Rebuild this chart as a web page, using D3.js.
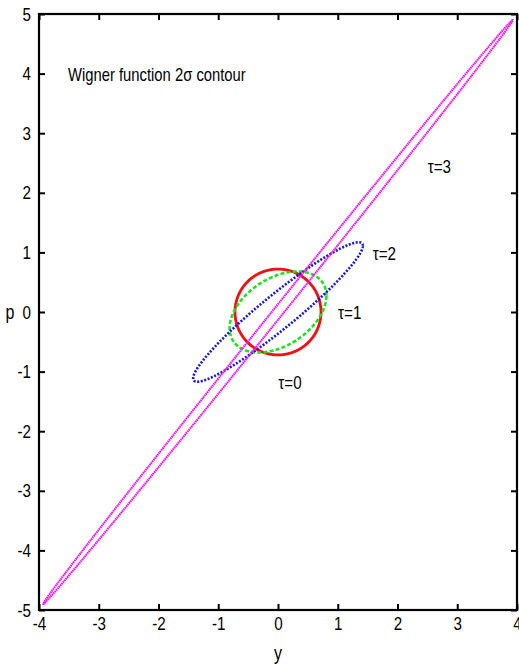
<!DOCTYPE html>
<html lang="en">
<head>
    <meta charset="UTF-8">
    <title>Wigner function 2 sigma contour</title>
    <script src="https://d3js.org/d3.v7.min.js"></script>
    <style>
        body { margin: 0; background: #fff; }
        text {
            font-family: "Liberation Sans", Arial, sans-serif;
            fill: #000;
        }
        .tick text { font-size: 19px; }
        .tick line { stroke: #000; stroke-width: 2px; }
        .frame { fill: none; stroke: #000; stroke-width: 2.2px; }
        .contour { fill: none; }
    </style>
</head>
<body>

<svg id="chart" width="519" height="671"></svg>

<script>
    // contour parameters (half width in y, half height in p, y-p correlation)
    const taus  = [0, 1, 2, 3];
    const halfY = [0.72, 0.81, 1.42, 3.93];
    const halfP = [0.72, 0.68, 1.17, 4.90];
    const corr  = [0, 0.40, 0.95, 0.99964];

    // where the tau labels sit, in data units
    const labelY = [0.2, 1.2, 1.78, 2.7];
    const labelP = [-1.18, 0.0, 0.98, 2.45];

    const xTicks = [-4, -3, -2, -1, 0, 1, 2, 3, 4];
    const yTicks = [-5, -4, -3, -2, -1, 0, 1, 2, 3, 4, 5];

    const styles = [
        { color: "#f01010", width: 2.8, dash: null },
        { color: "#22e022", width: 2.6, dash: "4,2.2" },
        { color: "#1414e6", width: 2.6, dash: "2,1.6" },
        { color: "#ee18ee", width: 2.1, dash: "1.6,0.5" }
    ];

    const squeeze = 0.8; // the original uses a condensed face

    // move x/y into a transform so the glyphs can be narrowed in place
    function narrow(sel) {
        sel.each(function () {
            const t = d3.select(this);
            const tx = +t.attr("x") || 0, ty = +t.attr("y") || 0;
            t.attr("x", null).attr("y", null)
             .attr("transform", `translate(${tx},${ty}) scale(${squeeze},1)`);
        });
    }

    const svg = d3.select("#chart");
    const x = d3.scaleLinear().domain([-4, 4]).range([39, 517]);
    const y = d3.scaleLinear().domain([-5, 5]).range([610, 14]);
    const fmt = d => String(d);

    // axes with inward ticks on all four sides
    svg.append("g")
        .attr("transform", `translate(0,${y(-5)})`)
        .call(d3.axisBottom(x).tickValues(xTicks).tickSize(-6).tickPadding(7).tickFormat(fmt))
        .call(g => g.select(".domain").remove());
    svg.append("g")
        .attr("transform", `translate(0,${y(5)})`)
        .call(d3.axisTop(x).tickValues(xTicks).tickSize(-6).tickFormat(""))
        .call(g => g.select(".domain").remove());
    svg.append("g")
        .attr("transform", `translate(${x(-4)},0)`)
        .call(d3.axisLeft(y).tickValues(yTicks).tickSize(-6).tickPadding(8).tickFormat(fmt))
        .call(g => g.select(".domain").remove());
    svg.append("g")
        .attr("transform", `translate(${x(4)},0)`)
        .call(d3.axisRight(y).tickValues(yTicks).tickSize(-6).tickFormat(""))
        .call(g => g.select(".domain").remove());

    svg.selectAll("g").attr("font-family", null).attr("font-size", null);
    narrow(svg.selectAll(".tick text"));

    svg.append("rect")
        .attr("class", "frame")
        .attr("x", x(-4)).attr("y", y(5))
        .attr("width", x(4) - x(-4)).attr("height", y(-5) - y(5));

    // axis titles
    svg.append("text")
        .attr("x", x(0)).attr("y", 660)
        .attr("text-anchor", "middle")
        .style("font-size", "20px")
        .text("y")
        .call(narrow);
    svg.append("text")
        .attr("x", 10).attr("y", y(0))
        .attr("dy", "0.35em")
        .attr("text-anchor", "middle")
        .style("font-size", "20px")
        .text("p")
        .call(narrow);

    svg.append("text")
        .attr("x", 68).attr("y", 81)
        .style("font-size", "18.5px")
        .text("Wigner function 2\u03c3 contour")
        .call(narrow);

    // contours: ellipse with given half extents and correlation
    const line = d3.line().x(d => x(d[0])).y(d => y(d[1]));
    const angles = d3.range(0, 2 * Math.PI + 0.001, Math.PI / 360);

    taus.forEach((tau, i) => {
        const s = Math.sqrt(1 - corr[i] * corr[i]);
        const pts = angles.map(t => [
            halfY[i] * Math.cos(t),
            halfP[i] * (corr[i] * Math.cos(t) + s * Math.sin(t))
        ]);
        const st = styles[i];
        svg.append("path")
            .attr("class", "contour")
            .attr("d", line(pts))
            .attr("stroke", st.color)
            .attr("stroke-width", st.width)
            .attr("stroke-dasharray", st.dash);
    });

    // labels drawn after so they stay on top
    svg.append("g")
        .selectAll("text")
        .data(taus)
        .join("text")
        .attr("x", (d, i) => x(labelY[i]))
        .attr("y", (d, i) => y(labelP[i]))
        .attr("dy", "0.35em")
        .attr("text-anchor", "middle")
        .style("font-size", "19px")
        .text(d => "\u03c4=" + d)
        .call(narrow);
</script>

</body>
</html>
